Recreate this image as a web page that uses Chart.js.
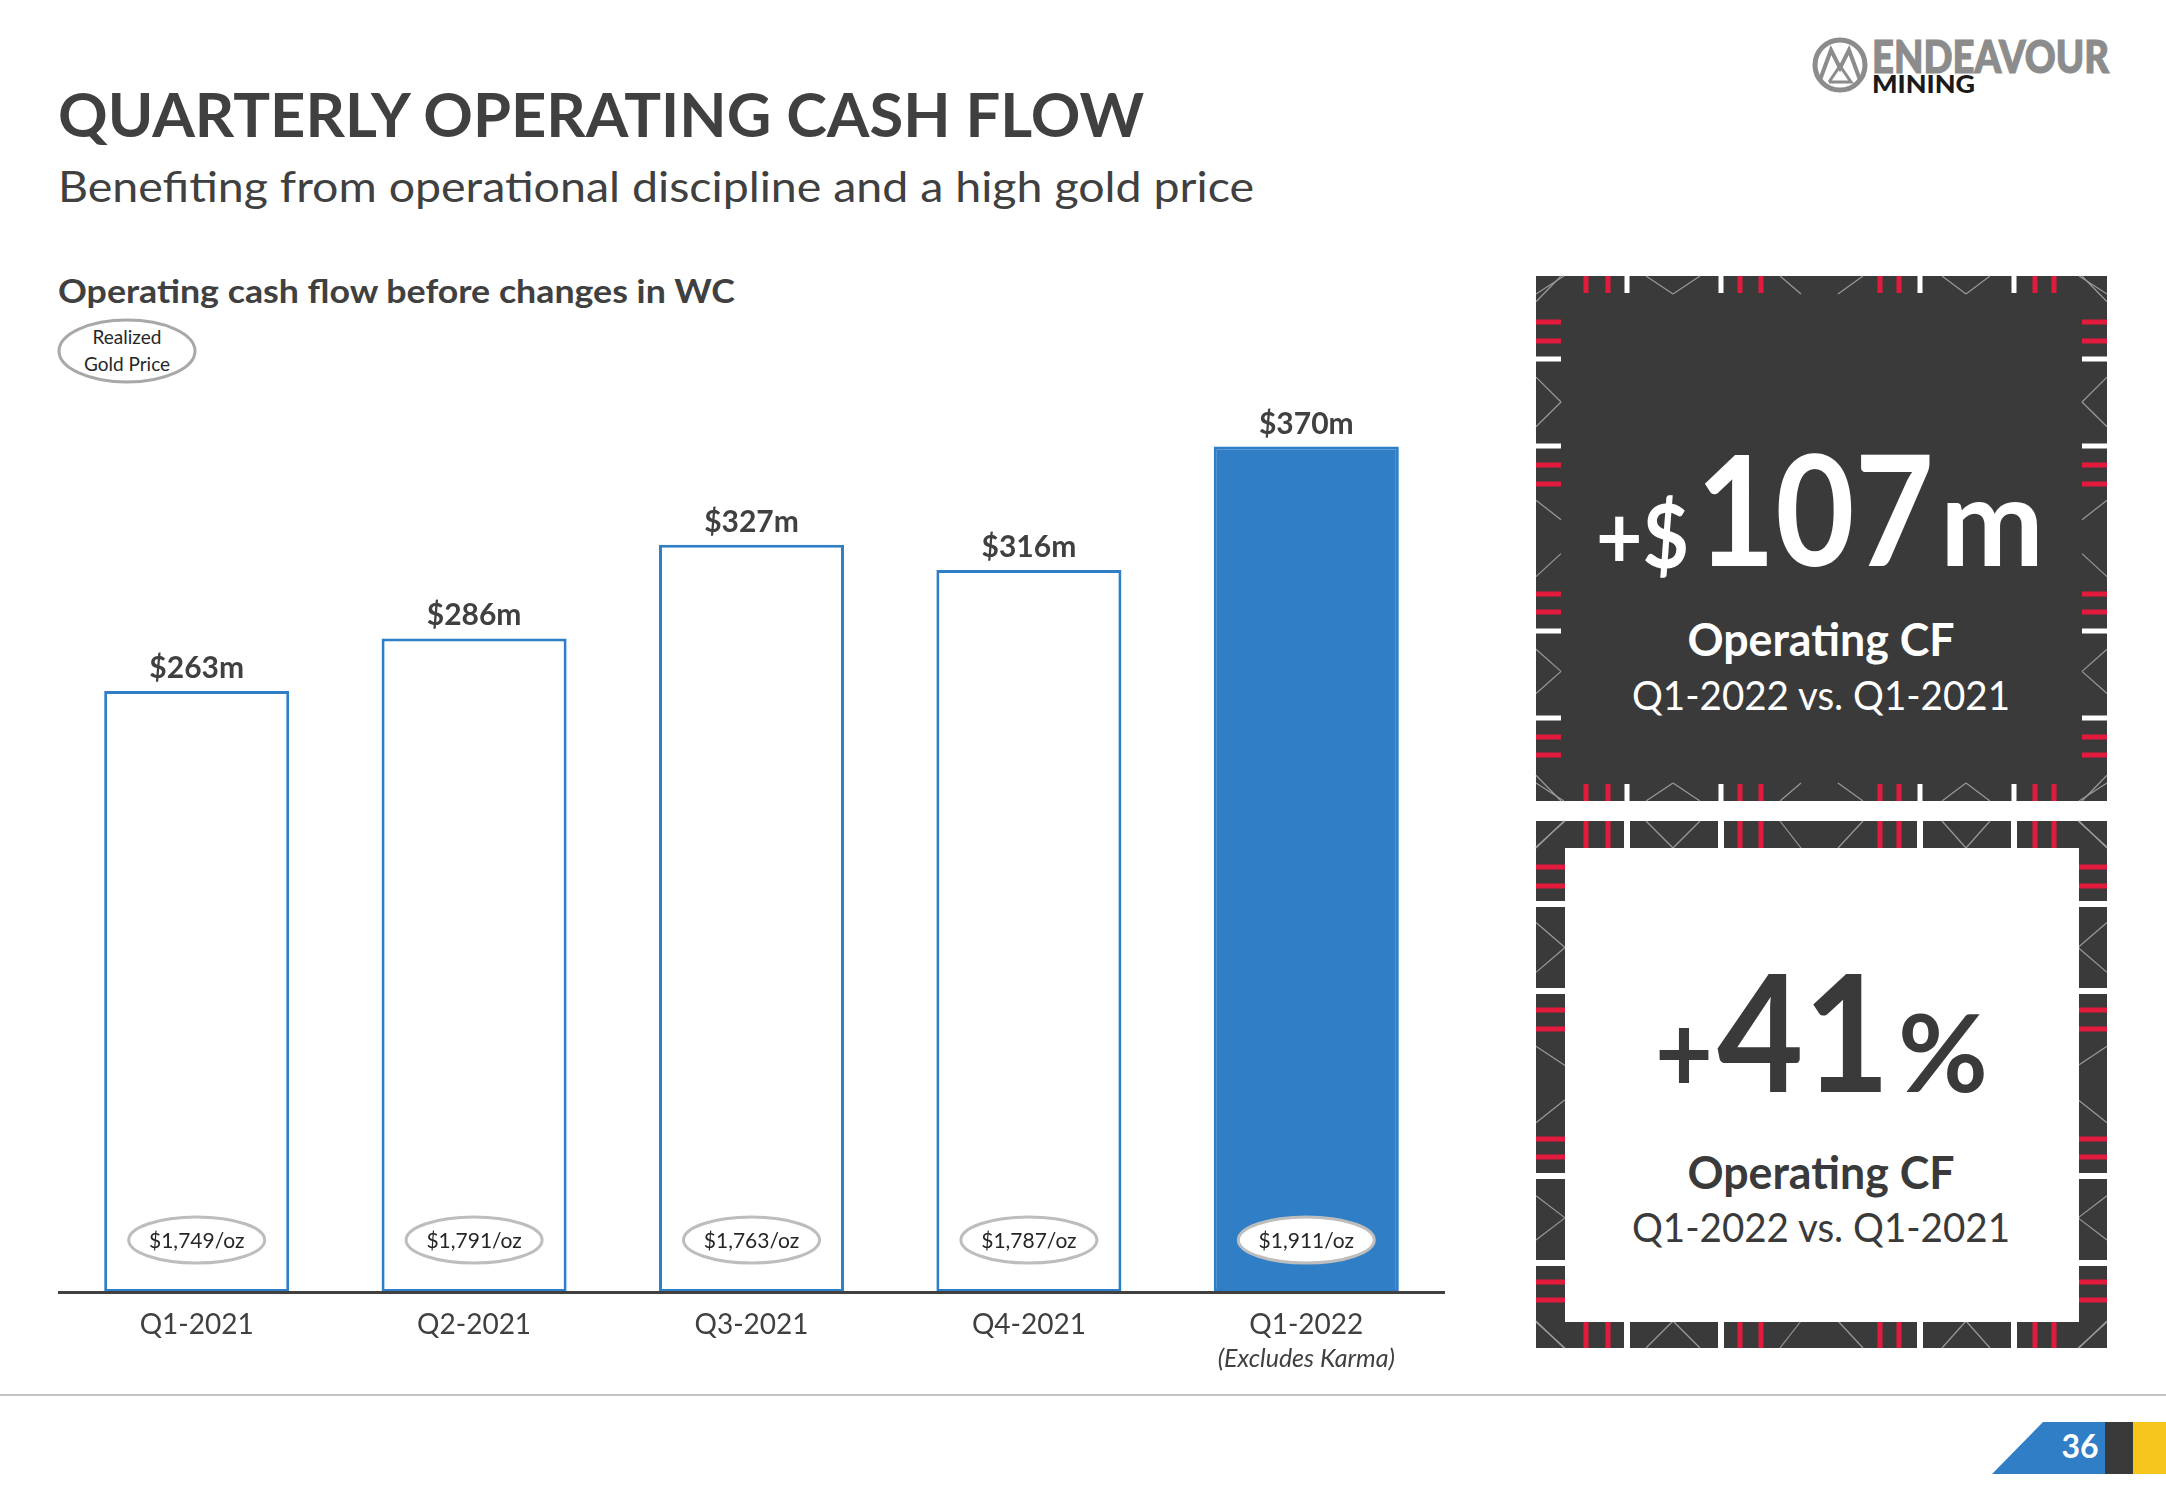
<!DOCTYPE html>
<html>
<head>
<meta charset="utf-8">
<title>Quarterly Operating Cash Flow</title>
<script src="https://cdn.jsdelivr.net/npm/chart.js@4.4.1/dist/chart.umd.min.js"></script>
<style>
html,body{margin:0;padding:0;background:#ffffff;}
#page{position:relative;width:2166px;height:1500px;overflow:hidden;background:#fff;font-family:Lato,'Open Sans',sans-serif;}
#deco{position:absolute;left:0;top:0;}
#chartBox{position:absolute;left:58px;top:290px;width:1387px;height:1100px;}
#chartBox canvas{display:block;}
</style>
</head>
<body>
<div id="page">
<svg id="deco" width="2166" height="1500" viewBox="0 0 2166 1500" xmlns="http://www.w3.org/2000/svg" font-family="Lato, 'Open Sans', sans-serif">
  <text x="58" y="137" font-size="62" font-weight="700" fill="#404040" textLength="1086" lengthAdjust="spacingAndGlyphs">QUARTERLY OPERATING CASH FLOW</text>
  <text x="58" y="202" font-size="42" font-weight="400" fill="#404040" textLength="1196" lengthAdjust="spacingAndGlyphs">Benefiting from operational discipline and a high gold price</text>
  <text x="58" y="303" font-size="32" font-weight="700" fill="#404040" textLength="677" lengthAdjust="spacingAndGlyphs">Operating cash flow before changes in WC</text>
  <ellipse cx="127" cy="351" rx="68" ry="31" fill="#ffffff" stroke="#a8a8a8" stroke-width="3"/>
  <text x="127" y="344" font-size="19" fill="#262626" text-anchor="middle">Realized</text>
  <text x="127" y="371" font-size="19" fill="#262626" text-anchor="middle">Gold Price</text>

  <!-- logo -->
  <g id="logo">
    <circle cx="1840" cy="65" r="25" fill="none" stroke="#8c8c8c" stroke-width="5"/>
    <polyline points="1820,80 1831,50 1840,68 1849,50 1860,80" fill="none" stroke="#8c8c8c" stroke-width="4" stroke-linejoin="miter"/>
    <polyline points="1829,82 1840,66 1851,82 1829,82" fill="none" stroke="#8c8c8c" stroke-width="3"/>
    <text x="1872" y="73" font-size="46" font-weight="900" fill="#8c8c8c" stroke="#8c8c8c" stroke-width="1.2" textLength="237" lengthAdjust="spacingAndGlyphs">ENDEAVOUR</text>
    <text x="1872" y="93" font-size="25" font-weight="900" fill="#1a1a1a" textLength="103" lengthAdjust="spacingAndGlyphs">MINING</text>
  </g>

  <g id="panels"></g>

  <line x1="0" y1="1395" x2="2166" y2="1395" stroke="#c4c4c4" stroke-width="2"/>
  <polygon points="2043,1422 2105,1422 2105,1474 1992,1474" fill="#2f7ec6"/>
  <rect x="2105" y="1422" width="28" height="52" fill="#3a3a3a"/>
  <rect x="2133" y="1422" width="33" height="52" fill="#f6c61d"/>
  <text x="2080" y="1458" font-size="32" font-weight="700" fill="#ffffff" text-anchor="middle">36</text>
</svg>
<div id="chartBox"><canvas id="chart" width="1387" height="1100"></canvas></div>
</div>
<script>
// ---------------- data ----------------
const categories = ['Q1-2021', 'Q2-2021', 'Q3-2021', 'Q4-2021', 'Q1-2022'];
const categoryNotes = ['', '', '', '', '(Excludes Karma)'];
const cashFlowM = [263, 286, 327, 316, 370];
const goldPricePerOz = [1749, 1791, 1763, 1787, 1911];
const highlightIndex = 4;
const yMin = 0;
const yMax = 400;

// ---------------- style ----------------
const BLUE = '#2f7ec6';
const TEXT = '#404040';
const DARK = '#3a3a3a';
const RED = '#e21a3c';

// ---------------- side panels (decoration) ----------------
const NS = 'http://www.w3.org/2000/svg';
function el(tag, attrs, parent, text) {
  const e = document.createElementNS(NS, tag);
  for (const k in attrs) e.setAttribute(k, attrs[k]);
  if (text !== undefined) e.textContent = text;
  parent.appendChild(e);
  return e;
}
const panels = document.getElementById('panels');
// tick marks along the edges of each panel (offsets in px, from the left / top of a 571 x 525 box)
const edgeTicksH = [[50,'r'],[72,'r'],[91,'w'],[185,'w'],[204,'r'],[225,'r'],[344,'r'],[363,'r'],[384,'w'],[478,'w'],[499,'r'],[518,'r']];
const edgeTicksV = [[46,'r'],[65,'r'],[83,'w'],[170,'w'],[189,'r'],[208,'r'],[318,'r'],[336,'r'],[355,'w'],[442,'w'],[461,'r'],[479,'r']];
const edgeDiag = [[0,1,28,0],[110,0,137,1],[137,1,164,0],[244,0,265,1],[302,1,327,0],[406,0,430,1],[430,1,454,0],[543,0,571,1]];

function diagonals(bx, by, bw, bh, dTop, dSide, color) {
  const k = bh / bw;
  edgeDiag.forEach(([a, d1, b, d2]) => {
    const st = {stroke: color, 'stroke-width': 1.2};
    el('line', Object.assign({x1: bx + a, y1: by + d1 * dTop, x2: bx + b, y2: by + d2 * dTop}, st), panels);
    el('line', Object.assign({x1: bx + a, y1: by + bh - d1 * dTop, x2: bx + b, y2: by + bh - d2 * dTop}, st), panels);
    el('line', Object.assign({x1: bx + d1 * dSide, y1: by + a * k, x2: bx + d2 * dSide, y2: by + b * k}, st), panels);
    el('line', Object.assign({x1: bx + bw - d1 * dSide, y1: by + a * k, x2: bx + bw - d2 * dSide, y2: by + b * k}, st), panels);
  });
}

// Panel 1: dark
(function () {
  const bx = 1536, by = 276, bw = 571, bh = 525;
  el('rect', {x: bx, y: by, width: bw, height: bh, fill: DARK}, panels);
  diagonals(bx, by, bw, bh, 18, 25, '#9a9a9a');
  edgeTicksH.forEach(([p, c]) => {
    const f = c === 'r' ? RED : '#ffffff';
    el('rect', {x: bx + p - 2.5, y: by, width: 5, height: 17, fill: f}, panels);
    el('rect', {x: bx + p - 2.5, y: by + bh - 17, width: 5, height: 17, fill: f}, panels);
  });
  edgeTicksV.forEach(([p, c]) => {
    const f = c === 'r' ? RED : '#ffffff';
    el('rect', {x: bx, y: by + p - 2.5, width: 25, height: 5, fill: f}, panels);
    el('rect', {x: bx + bw - 25, y: by + p - 2.5, width: 25, height: 5, fill: f}, panels);
  });
  const t = {fill: '#ffffff', 'font-weight': 700, 'lengthAdjust': 'spacingAndGlyphs'};
  el('text', Object.assign({x: 1596, y: 568, 'font-size': 88, textLength: 93}, t), panels, '+$');
  el('text', Object.assign({x: 1696, y: 566, 'font-size': 153, textLength: 238}, t), panels, '107');
  el('text', Object.assign({x: 1940, y: 566, 'font-size': 122, textLength: 104}, t), panels, 'm');
  el('text', Object.assign({x: 1821, y: 656, 'font-size': 46, textLength: 267, 'text-anchor': 'middle'}, t), panels, 'Operating CF');
  el('text', {x: 1821, y: 710, 'font-size': 40, fill: '#ffffff', textLength: 378, lengthAdjust: 'spacingAndGlyphs', 'text-anchor': 'middle'}, panels, 'Q1-2022 vs. Q1-2021');
})();

// Panel 2: framed white
(function () {
  const bx = 1536, by = 821, bw = 571, bh = 527;
  el('rect', {x: bx, y: by, width: bw, height: bh, fill: DARK}, panels);
  diagonals(bx, by, bw, bh, 27, 29, '#9a9a9a');
  el('rect', {x: bx + 29, y: by + 27, width: bw - 57, height: bh - 53, fill: '#ffffff'}, panels);
  edgeTicksH.forEach(([p, c]) => {
    const f = c === 'r' ? RED : '#ffffff';
    const w = c === 'r' ? 5 : 6;
    el('rect', {x: bx + p - w / 2, y: by, width: w, height: 27, fill: f}, panels);
    el('rect', {x: bx + p - w / 2, y: by + bh - 26, width: w, height: 26, fill: f}, panels);
  });
  edgeTicksV.forEach(([p, c]) => {
    const f = c === 'r' ? RED : '#ffffff';
    const w = c === 'r' ? 5 : 6;
    el('rect', {x: bx, y: by + p - w / 2, width: 29, height: w, fill: f}, panels);
    el('rect', {x: bx + bw - 28, y: by + p - w / 2, width: 28, height: w, fill: f}, panels);
  });
  const t = {fill: DARK, 'font-weight': 700, 'lengthAdjust': 'spacingAndGlyphs'};
  el('text', Object.assign({x: 1655, y: 1092, 'font-size': 110, textLength: 58}, t), panels, '+');
  el('text', Object.assign({x: 1717, y: 1092, 'font-size': 163, textLength: 173}, t), panels, '41');
  el('text', Object.assign({x: 1898, y: 1092, 'font-size': 108, textLength: 90}, t), panels, '%');
  el('text', Object.assign({x: 1821, y: 1189, 'font-size': 46, textLength: 267, 'text-anchor': 'middle'}, t), panels, 'Operating CF');
  el('text', {x: 1821, y: 1242, 'font-size': 40, fill: DARK, textLength: 378, lengthAdjust: 'spacingAndGlyphs', 'text-anchor': 'middle'}, panels, 'Q1-2022 vs. Q1-2021');
})();

// ---------------- chart ----------------
const fmtCash = v => '$' + v + 'm';
const fmtGold = v => '$' + v.toLocaleString('en-US') + '/oz';

const barAnnotations = {
  id: 'barAnnotations',
  afterDatasetsDraw(chart) {
    const {ctx, chartArea} = chart;
    const meta = chart.getDatasetMeta(0);
    meta.data.forEach((bar, i) => {
      ctx.save();
      ctx.textAlign = 'center';
      ctx.fillStyle = TEXT;
      ctx.font = 'bold 30px Lato, "Open Sans", sans-serif';
      ctx.textBaseline = 'alphabetic';
      ctx.fillText(fmtCash(cashFlowM[i]), bar.x, bar.y - 13);

      const cy = chartArea.bottom - 52;
      ctx.beginPath();
      ctx.ellipse(bar.x, cy, 68, 23, 0, 0, Math.PI * 2);
      ctx.fillStyle = '#ffffff';
      ctx.fill();
      ctx.lineWidth = 3;
      ctx.strokeStyle = '#bdbdbd';
      ctx.stroke();
      ctx.fillStyle = '#262626';
      ctx.font = '21px Lato, "Open Sans", sans-serif';
      ctx.textBaseline = 'middle';
      ctx.fillText(fmtGold(goldPricePerOz[i]), bar.x, cy + 1);
      ctx.restore();
    });
  },
  afterDraw(chart) {
    const {ctx, chartArea, scales} = chart;
    ctx.save();
    ctx.textAlign = 'center';
    ctx.textBaseline = 'middle';
    ctx.fillStyle = TEXT;
    ctx.font = 'italic 25px Lato, "Open Sans", sans-serif';
    categoryNotes.forEach((n, i) => {
      if (n) ctx.fillText(n, scales.x.getPixelForValue(i), chartArea.bottom + 67);
    });
    ctx.restore();
  }
};

function build() {
  new Chart(document.getElementById('chart'), {
    type: 'bar',
    data: {
      labels: categories,
      datasets: [{
        data: cashFlowM,
        backgroundColor: cashFlowM.map((v, i) => i === highlightIndex ? BLUE : '#ffffff'),
        borderColor: BLUE,
        borderWidth: 3,
        borderSkipped: false,
        categoryPercentage: 1,
        barPercentage: 0.667
      }]
    },
    options: {
      responsive: false,
      animation: false,
      layout: {padding: {top: 88, left: 0, right: 0, bottom: 0}},
      plugins: {legend: {display: false}, tooltip: {enabled: false}, title: {display: false}},
      scales: {
        x: {
          grid: {display: false, drawTicks: false},
          border: {display: true, color: TEXT, width: 3, z: 1},
          ticks: {padding: 16, color: TEXT, font: {family: 'Lato, "Open Sans", sans-serif', size: 28}},
          afterFit: s => { s.height = 98; }
        },
        y: {display: false, min: yMin, max: yMax}
      }
    },
    plugins: [barAnnotations]
  });
}

Promise.all([
  document.fonts.load('bold 30px Lato'),
  document.fonts.load('21px Lato'),
  document.fonts.load('italic 25px Lato')
]).catch(() => {}).then(build);
</script>
</body>
</html>
